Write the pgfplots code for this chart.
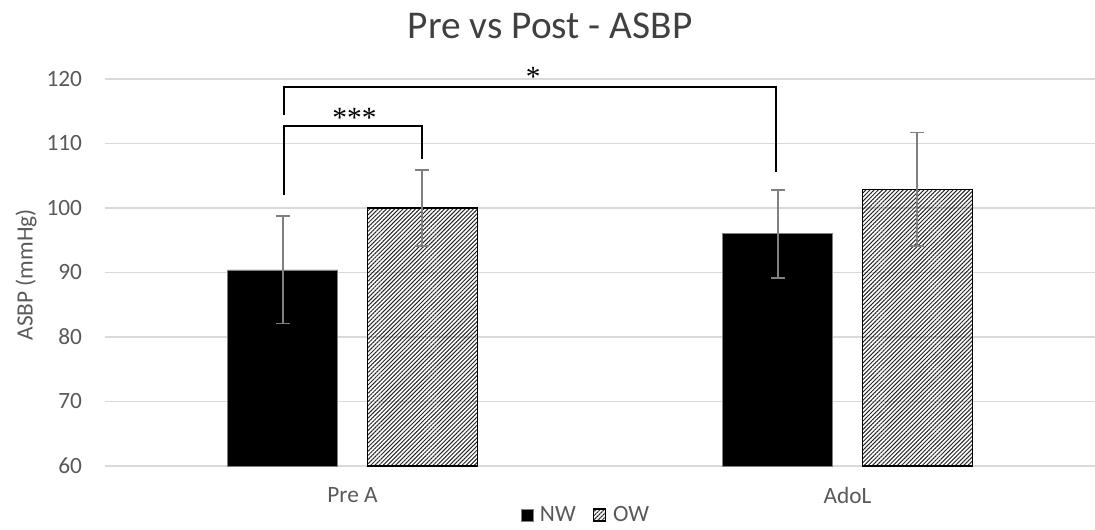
\documentclass[border=0pt]{standalone}
\usepackage{fontspec}
\setmainfont{Carlito}
\newfontfamily\seriffont{Liberation Serif}
\usepackage{pgfplots}
\pgfplotsset{compat=1.18}
\usetikzlibrary{patterns.meta}
\definecolor{txt}{HTML}{595959}
\definecolor{ttl}{HTML}{404040}
\definecolor{gridc}{HTML}{D9D9D9}
\definecolor{errc}{HTML}{808080}
\begin{document}
\begin{tikzpicture}
\useasboundingbox (-78.75pt,-47.25pt) rectangle (742.5pt,349.5pt);
\begin{axis}[
  at={(0,0)}, anchor=south west,
  scale only axis, width=742.5pt, height=290.25pt,
  xmin=-0.5, xmax=1.5, ymin=60, ymax=120,
  ytick={60,70,...,120}, xtick={0,1}, xticklabels={Pre A,AdoL},
  ymajorgrids, grid style={gridc, line width=1.1pt},
  axis line style={draw=none},
  major tick length=0pt,
  /pgf/number format/assume math mode=true,
  tick label style={font=\fontsize{17.5}{20}\selectfont, text=txt},
  yticklabel style={anchor=east, inner sep=0pt, xshift=-17pt},
  xticklabel style={anchor=north, inner sep=0pt, yshift=-15.75pt},
  every axis y label/.style={at={(axis description cs:-0.0798,0.494)}, rotate=90, anchor=center},
  ylabel={ASBP (mmHg)},
  label style={font=\fontsize{17.5}{20}\selectfont, text=txt},
  title={Pre vs Post - ASBP},
  title style={at={(axis description cs:0.4495,1.117)}, anchor=center, font=\fontsize{29.5}{32}\selectfont, text=ttl},
  clip=false,
  ybar, bar shift=0pt, bar width=0.222,
  legend columns=2,
  legend style={at={(0.486,-0.1266)}, anchor=center, draw=none, fill=none,
    font=\fontsize{17.5}{20}\selectfont, text=txt,
    /tikz/every even column/.append style={column sep=11pt}},
  legend image code/.code={\draw[#1] (0pt,-4.5pt) rectangle (9pt,4.5pt); \path (12pt,0pt);},
]
\addplot[fill=black, draw=errc, line width=0.6pt,
  error bars/.cd, y dir=both, y explicit,
  error bar style={errc, line width=1.4pt},
  error mark options={errc, line width=1.4pt, mark size=5.25pt, rotate=90}]
  coordinates {(-0.141,90.4) +- (0,8.3) (0.859,96.0) +- (0,6.8)};
\addlegendentry{NW}
\addplot[draw=black, line width=1pt, pattern={Lines[angle=45,distance=2.2pt,line width=0.75pt]}, pattern color=black!85,
  error bars/.cd, y dir=both, y explicit,
  error bar style={errc, line width=1.4pt},
  error mark options={errc, line width=1.4pt, mark size=5.25pt, rotate=90}]
  coordinates {(0.141,100.0) +- (0,5.9) (1.141,102.9) +- (0,8.8)};
\addlegendentry{OW}
\draw[line width=1.5pt] (axis cs:-0.139,114.4) -- (axis cs:-0.139,118.8) -- (axis cs:0.855,118.8) -- (axis cs:0.855,105.6);
\draw[line width=1.5pt] (axis cs:-0.139,102.0) -- (axis cs:-0.139,112.76) -- (axis cs:0.141,112.76) -- (axis cs:0.141,107.6);
\node[font=\seriffont\fontsize{22}{22}\selectfont, anchor=base, inner sep=0pt] at (axis cs:0.004,112.5) {***};
\node[font=\seriffont\fontsize{22}{22}\selectfont, anchor=base, inner sep=0pt] at (axis cs:0.365,118.76) {*};
\end{axis}
\end{tikzpicture}
\end{document}
